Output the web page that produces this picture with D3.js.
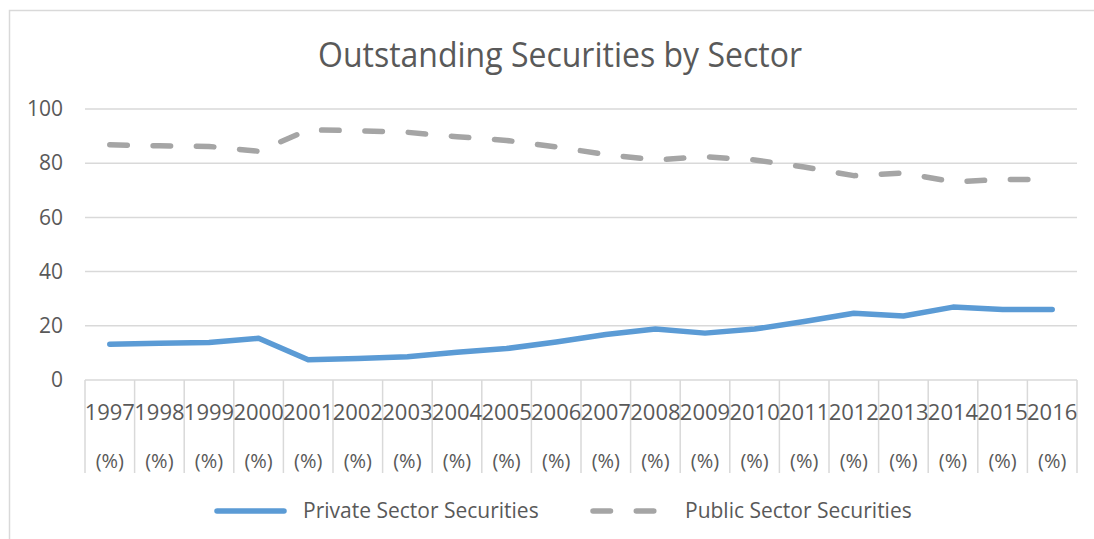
<!DOCTYPE html>
<html>
<head>
<meta charset="utf-8">
<script src="https://cdn.jsdelivr.net/npm/d3@7"></script>
<style>
  html, body { margin: 0; padding: 0; background: #fff; }
  svg { display: block; }
  text { font-family: "Open Sans", Lato, sans-serif; fill: #595959; }
</style>
</head>
<body>
<svg id="chart" width="1094" height="539"></svg>
<script>
// Share of outstanding securities by sector, per year (%)
const years = ["1997","1998","1999","2000","2001","2002","2003","2004","2005","2006",
               "2007","2008","2009","2010","2011","2012","2013","2014","2015","2016"];
const privateSector = [13.2, 13.6, 13.8, 15.4, 7.5, 7.9, 8.6, 10.2, 11.6, 14.0,
                       16.8, 18.8, 17.3, 18.8, 21.6, 24.6, 23.6, 26.9, 26.0, 26.0];
const publicSector  = [86.8, 86.4, 86.2, 84.4, 92.3, 92.0, 91.4, 89.8, 88.4, 86.0,
                       83.2, 81.2, 82.4, 81.2, 78.6, 75.4, 76.4, 73.1, 74.0, 74.0];
const yTicks = [0, 20, 40, 60, 80, 100];
const unitLabel = "(%)";
const seriesNames = ["Private Sector Securities", "Public Sector Securities"];

const svg = d3.select("#chart");
const W = 1094, H = 539;
const plot = { left: 85, right: 1077, top: 109, bottom: 380 };

// outer chart frame
svg.append("rect")
  .attr("x", 9.5).attr("y", 10.5)
  .attr("width", W + 20).attr("height", H + 20)
  .attr("fill", "#fff").attr("stroke", "#D9D9D9").attr("stroke-width", 1.5);

// title, slightly tall letterforms
svg.append("text")
  .attr("transform", "translate(560,67) scale(1,1.06)")
  .attr("text-anchor", "middle")
  .style("font-size", "32px")
  .text("Outstanding Securities by Sector");

const x = d3.scaleBand().domain(years).range([plot.left, plot.right]).padding(0);
const y = d3.scaleLinear().domain([0, 100]).range([plot.bottom, plot.top]);

// horizontal gridlines
svg.append("g")
  .selectAll("line")
  .data(yTicks.filter(d => d > 0))
  .join("line")
  .attr("x1", plot.left).attr("x2", plot.right)
  .attr("y1", d => y(d)).attr("y2", d => y(d))
  .attr("stroke", "#D9D9D9").attr("stroke-width", 1.5);

// y axis labels
const yAxis = svg.append("g")
  .attr("transform", `translate(${plot.left - 22},0)`)
  .call(d3.axisLeft(y).tickValues(yTicks).tickSize(0).tickPadding(0));
yAxis.select(".domain").remove();
yAxis.selectAll("text")
  .style("font-size", "21px")
  .style("font-family", "'Open Sans', Lato, sans-serif")
  .attr("fill", "#595959");

// category axis with two-row labels and long dividers
const xg = svg.append("g").attr("transform", `translate(0,${plot.bottom})`);
xg.append("line")
  .attr("x1", plot.left).attr("x2", plot.right)
  .attr("stroke", "#D9D9D9").attr("stroke-width", 1.5);
const dividers = years.map(d => x(d)).concat([x(years[years.length - 1]) + x.bandwidth()]);
xg.selectAll("line.div")
  .data(dividers)
  .join("line")
  .attr("class", "div")
  .attr("x1", d => d).attr("x2", d => d)
  .attr("y1", 0).attr("y2", 93)
  .attr("stroke", "#D9D9D9").attr("stroke-width", 1.5);
xg.selectAll("text.year")
  .data(years)
  .join("text")
  .attr("class", "year")
  .attr("x", d => x(d) + x.bandwidth() / 2)
  .attr("y", 40)
  .attr("text-anchor", "middle")
  .style("font-size", "22px")
  .text(d => d);
xg.selectAll("text.unit")
  .data(years)
  .join("text")
  .attr("class", "unit")
  .attr("x", d => x(d) + x.bandwidth() / 2)
  .attr("y", 88)
  .attr("text-anchor", "middle")
  .style("font-size", "20px")
  .text(unitLabel);

const line = d3.line()
  .x((d, i) => x(years[i]) + x.bandwidth() / 2)
  .y(d => y(d));

svg.append("path")
  .datum(publicSector)
  .attr("d", line)
  .attr("fill", "none")
  .attr("stroke", "#A5A5A5")
  .attr("stroke-width", 5.5)
  .attr("stroke-linecap", "round")
  .attr("stroke-linejoin", "round")
  .attr("stroke-dasharray", "17.5 25.8");

svg.append("path")
  .datum(privateSector)
  .attr("d", line)
  .attr("fill", "none")
  .attr("stroke", "#5B9BD5")
  .attr("stroke-width", 5.5)
  .attr("stroke-linecap", "round")
  .attr("stroke-linejoin", "round");

// legend
const legendY = 511;
const legend = [
  { name: seriesNames[0], color: "#5B9BD5", dash: null, x0: 217, x1: 284, tx: 303 },
  { name: seriesNames[1], color: "#A5A5A5", dash: "17.5 25.8", x0: 593, x1: 662, tx: 685 }
];
const lg = svg.append("g").selectAll("g").data(legend).join("g");
lg.append("line")
  .attr("x1", d => d.x0).attr("x2", d => d.x1)
  .attr("y1", legendY).attr("y2", legendY)
  .attr("stroke", d => d.color)
  .attr("stroke-width", 5.5)
  .attr("stroke-linecap", "round")
  .attr("stroke-dasharray", d => d.dash);
lg.append("text")
  .attr("x", d => d.tx).attr("y", legendY)
  .attr("dy", "0.35em")
  .style("font-size", "21px")
  .text(d => d.name);
</script>
</body>
</html>
